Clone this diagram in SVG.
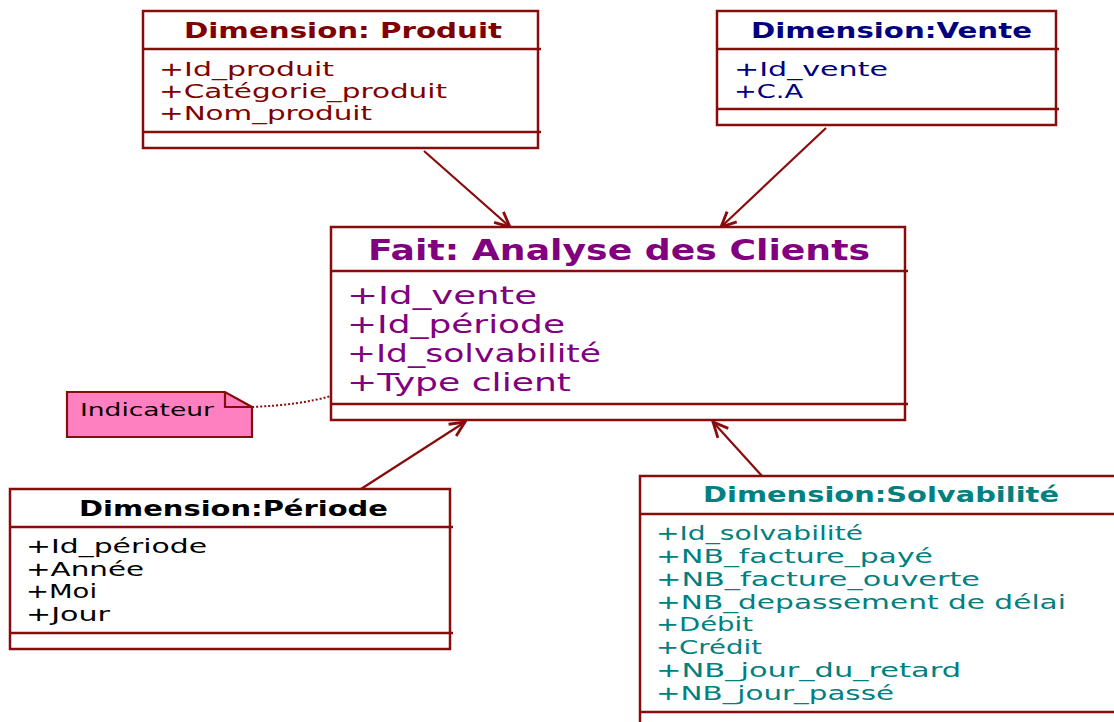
<svg xmlns="http://www.w3.org/2000/svg" width="1114" height="722" viewBox="0 0 1114 722">
  <style>
    .box { fill: #ffffff; stroke: #880c0c; stroke-width: 2.5; }
    .sep { stroke: #880c0c; stroke-width: 2.5; }
    .t { font-family: "DejaVu Sans", Verdana, sans-serif; }
    .title { font-weight: bold; font-size: 21px; }
    .attr { font-size: 20px; }
    .produit { fill: #800000; }
    .vente { fill: #000080; }
    .fait { fill: #800080; }
    .periode { fill: #000000; }
    .solv { fill: #008080; }
    .link { stroke: #880c0c; stroke-width: 2.2; fill: none; }
  </style>
  <defs>
    <marker id="open" markerUnits="userSpaceOnUse" markerWidth="20" markerHeight="20" refX="0" refY="0" viewBox="-18 -10 20 20" orient="auto">
      <path d="M-15,-7 L0,0 L-15,7" fill="none" stroke="#880c0c" stroke-width="2.8"/>
    </marker>
  </defs>
  <rect width="1114" height="722" fill="#ffffff"/>

  <!-- connectors -->
  <g id="connectors">
    <line class="link" x1="424" y1="151" x2="510" y2="227" marker-end="url(#open)"/>
    <line class="link" x1="826" y1="128" x2="721" y2="227" marker-end="url(#open)"/>
    <line class="link" x1="361" y1="489" x2="465" y2="422" marker-end="url(#open)"/>
    <line class="link" x1="762" y1="476" x2="713" y2="422" marker-end="url(#open)"/>
    <path d="M252,407 Q300,405 331,396" fill="none" stroke="#880c0c" stroke-width="2" stroke-dasharray="2,2"/>
  </g>

  <!-- Dimension: Produit -->
  <g id="produit">
    <rect class="box" x="143" y="11" width="395" height="137"/>
    <line class="sep" x1="143" y1="49" x2="541" y2="49"/>
    <line class="sep" x1="143" y1="132" x2="541" y2="132"/>
    <text class="t title produit" x="184" y="38" textLength="318" lengthAdjust="spacingAndGlyphs">Dimension: Produit</text>
    <text class="t attr produit" x="159" y="76" textLength="175" lengthAdjust="spacingAndGlyphs">+Id_produit</text>
    <text class="t attr produit" x="159" y="98" textLength="288" lengthAdjust="spacingAndGlyphs">+Catégorie_produit</text>
    <text class="t attr produit" x="159" y="120" textLength="213" lengthAdjust="spacingAndGlyphs">+Nom_produit</text>
  </g>

  <!-- Dimension: Vente -->
  <g id="vente">
    <rect class="box" x="717" y="11" width="339" height="114"/>
    <line class="sep" x1="717" y1="49" x2="1059" y2="49"/>
    <line class="sep" x1="717" y1="109" x2="1059" y2="109"/>
    <text class="t title vente" x="751" y="38" textLength="281" lengthAdjust="spacingAndGlyphs">Dimension:Vente</text>
    <text class="t attr vente" x="734" y="76" textLength="154" lengthAdjust="spacingAndGlyphs">+Id_vente</text>
    <text class="t attr vente" x="734" y="98" textLength="69" lengthAdjust="spacingAndGlyphs">+C.A</text>
  </g>

  <!-- Fait: Analyse des Clients -->
  <g id="fait">
    <rect class="box" x="331" y="227" width="574" height="193"/>
    <line class="sep" x1="331" y1="271" x2="908" y2="271"/>
    <line class="sep" x1="331" y1="404" x2="908" y2="404"/>
    <text class="t fait" x="368" y="260" font-size="29" font-weight="bold" textLength="502" lengthAdjust="spacingAndGlyphs">Fait: Analyse des Clients</text>
    <text class="t fait" x="347" y="304" font-size="25" textLength="190" lengthAdjust="spacingAndGlyphs">+Id_vente</text>
    <text class="t fait" x="347" y="333" font-size="25" textLength="218" lengthAdjust="spacingAndGlyphs">+Id_période</text>
    <text class="t fait" x="347" y="362" font-size="25" textLength="254" lengthAdjust="spacingAndGlyphs">+Id_solvabilité</text>
    <text class="t fait" x="347" y="391" font-size="25" textLength="224" lengthAdjust="spacingAndGlyphs">+Type client</text>
  </g>

  <!-- Note: Indicateur -->
  <g id="indicateur">
    <path d="M67,392 L225,392 L252,407 L252,437 L67,437 Z" fill="#ff80c0" stroke="#880c0c" stroke-width="2.2"/>
    <path d="M225,392 L225,407 L252,407" fill="none" stroke="#880c0c" stroke-width="2.2"/>
    <text class="t" x="80" y="416" font-size="18" fill="#000000" textLength="134" lengthAdjust="spacingAndGlyphs">Indicateur</text>
  </g>

  <!-- Dimension: Période -->
  <g id="periode">
    <rect class="box" x="10" y="489" width="440" height="160"/>
    <line class="sep" x1="10" y1="527" x2="453" y2="527"/>
    <line class="sep" x1="10" y1="633" x2="453" y2="633"/>
    <text class="t title periode" x="79" y="516" textLength="309" lengthAdjust="spacingAndGlyphs">Dimension:Période</text>
    <text class="t attr periode" x="26" y="553" textLength="181" lengthAdjust="spacingAndGlyphs">+Id_période</text>
    <text class="t attr periode" x="26" y="576" textLength="118" lengthAdjust="spacingAndGlyphs">+Année</text>
    <text class="t attr periode" x="26" y="598" textLength="71" lengthAdjust="spacingAndGlyphs">+Moi</text>
    <text class="t attr periode" x="26" y="621" textLength="84" lengthAdjust="spacingAndGlyphs">+Jour</text>
  </g>

  <!-- Dimension: Solvabilité -->
  <g id="solvabilite">
    <rect class="box" x="640" y="476" width="490" height="260"/>
    <line class="sep" x1="640" y1="514" x2="1114" y2="514"/>
    <line class="sep" x1="640" y1="712" x2="1114" y2="712"/>
    <text class="t title solv" x="703" y="502" textLength="356" lengthAdjust="spacingAndGlyphs">Dimension:Solvabilité</text>
    <text class="t attr solv" x="656" y="540" textLength="207" lengthAdjust="spacingAndGlyphs">+Id_solvabilité</text>
    <text class="t attr solv" x="656" y="563" textLength="277" lengthAdjust="spacingAndGlyphs">+NB_facture_payé</text>
    <text class="t attr solv" x="656" y="586" textLength="324" lengthAdjust="spacingAndGlyphs">+NB_facture_ouverte</text>
    <text class="t attr solv" x="656" y="609" textLength="410" lengthAdjust="spacingAndGlyphs">+NB_depassement de délai</text>
    <text class="t attr solv" x="656" y="631" textLength="97" lengthAdjust="spacingAndGlyphs">+Débit</text>
    <text class="t attr solv" x="656" y="654" textLength="106" lengthAdjust="spacingAndGlyphs">+Crédit</text>
    <text class="t attr solv" x="656" y="677" textLength="305" lengthAdjust="spacingAndGlyphs">+NB_jour_du_retard</text>
    <text class="t attr solv" x="656" y="700" textLength="238" lengthAdjust="spacingAndGlyphs">+NB_jour_passé</text>
  </g>
</svg>
